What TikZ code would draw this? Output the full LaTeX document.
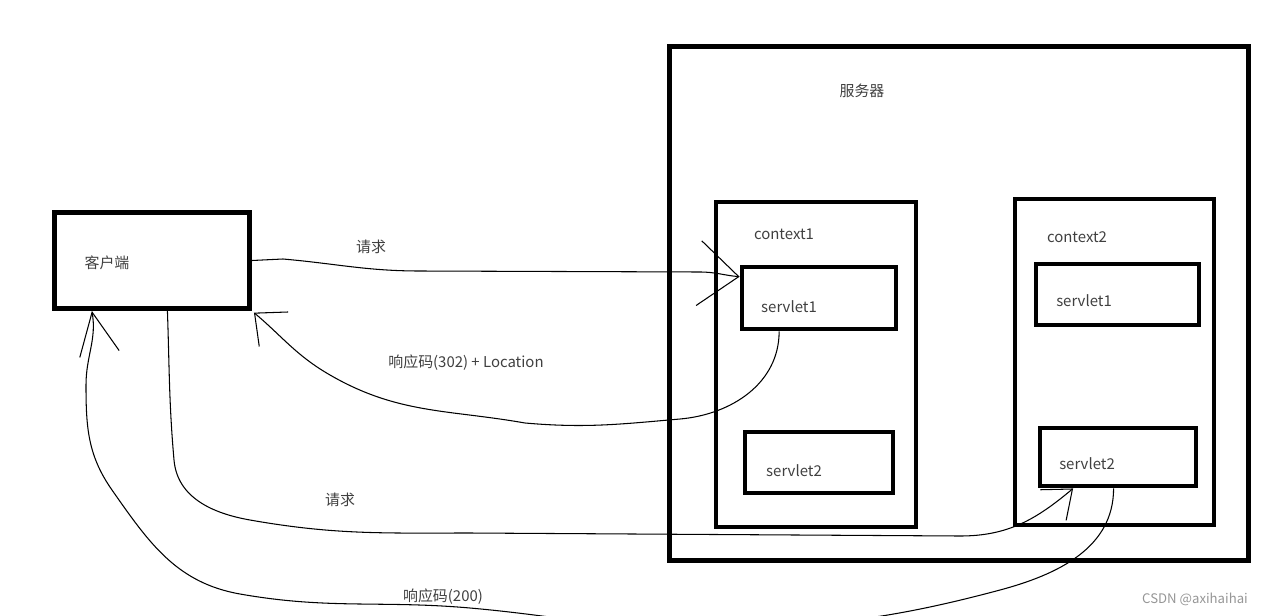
\documentclass[tikz,border=0pt]{standalone}
\usepackage{fontspec}
\setmainfont{Noto Sans CJK SC}
\usetikzlibrary{arrows.meta}
\definecolor{RdInk}{RGB}{0,0,0}
\definecolor{RdText}{RGB}{64,64,64}
\definecolor{RdMark}{RGB}{150,150,150}
\tikzset{
  rd/box/.style={
    draw=RdInk,
    line width=2.8pt,
    rectangle,
    inner sep=0pt
  },
  rd/text/.style={
    font=\fontsize{8.5}{10}\selectfont,
    text=RdText,
    inner sep=1pt
  },
  rd/line/.style={draw=RdInk, line width=0.6pt},
  rd/arrow/.style 2 args={-{Straight Barb[length=#1,width=#2]}, draw=RdInk, line width=0.6pt},
  rd/mark/.style={font=\fontsize{7.5}{9}\selectfont, text=RdMark}
}
\begin{document}
\begin{tikzpicture}[x=0.02cm,y=0.02cm]
  \clip (0,0) rectangle (1266,-615);
  % boxes
  \node[rd/box,minimum width=3.9cm,minimum height=1.92cm] (client) at (152,-260.5) {};
  \node[rd/box,minimum width=11.58cm,minimum height=10.3cm] (server) at (959,-303.5) {};
  \node[rd/box,minimum width=4.0cm,minimum height=6.5cm] (ctx1) at (816,-364.5) {};
  \node[rd/box,minimum width=3.98cm,minimum height=6.52cm] (ctx2) at (1114.5,-362) {};
  \node[rd/box,minimum width=3.08cm,minimum height=1.24cm] (s1a) at (819,-298) {};
  \node[rd/box,minimum width=2.96cm,minimum height=1.22cm] (s2a) at (819,-462.5) {};
  \node[rd/box,minimum width=3.26cm,minimum height=1.22cm] (s1b) at (1117.5,-294.5) {};
  \node[rd/box,minimum width=3.12cm,minimum height=1.16cm] (s2b) at (1118,-457) {};
  % box texts
  \node[rd/text] (tclient) at (107,-263) {客户端};
  \node[rd/text] (tserver) at (862,-91) {服务器};
  \node[rd/text] (tctx1) at (784,-234) {context1};
  \node[rd/text] (tctx2) at (1077,-237) {context2};
  \node[rd/text] (ts1a) at (789,-307) {servlet1};
  \node[rd/text] (ts2a) at (794,-471) {servlet2};
  \node[rd/text] (ts1b) at (1084,-301) {servlet1};
  \node[rd/text] (ts2b) at (1087,-464) {servlet2};
  % requests and responses
  \draw[rd/arrow={0.8cm}{1.3cm}] (client.east) -- (283,-259)
    to[out=-5,in=180] (420,-271) -- (700,-272) to[out=0,in=175] (s1a.165);
  \node[rd/text] (treq1) at (371,-247) {请求};
  \draw[rd/arrow={0.5cm}{0.9cm},shorten >=1.5pt] (s1a.220) to[out=-90,in=5] (680,-419)
    to[out=185,in=-5] (525,-423) to[out=170,in=-30] (330,-375)
    to[out=150,in=-40] (client.south east);
  \node[rd/text] (tresp1) at (466,-363) {响应码(302) + Location};
  \draw[rd/arrow={0.5cm}{0.8cm}] (client.287) to[out=-88,in=95] (174,-460)
    to[out=-85,in=170] (250,-520) to[out=-10,in=180] (470,-533) -- (960,-536)
    to[out=0,in=-140] (s2b.215);
  \node[rd/text] (treq2) at (340,-500) {请求};
  \draw[rd/arrow={0.85cm}{0.8cm}] (s2b.262) to[out=-90,in=15] (1000,-590)
    to[out=195,in=0] (690,-628) to[out=180,in=-5] (470,-608)
    to[out=175,in=-10] (240,-594) to[out=170,in=-55] (112,-490)
    to[out=125,in=-90] (86,-385) to[out=90,in=-80] (client.220);
  \node[rd/text] (tresp2) at (443,-597) {响应码(200)};
  \node[rd/mark] (mark) at (1195,-599) {CSDN @axihaihai};
\end{tikzpicture}
\end{document}
